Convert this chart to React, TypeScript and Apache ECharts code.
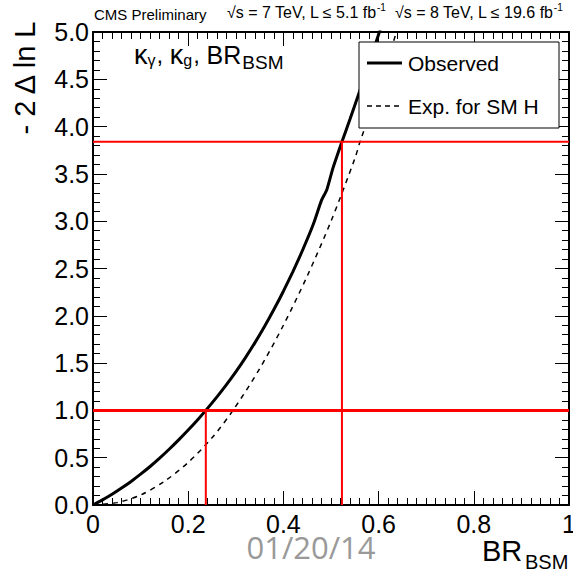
import React, { useEffect, useRef } from "react";
import * as echarts from "echarts";

const OBS_X = [0, 0.02, 0.04, 0.06, 0.08, 0.10, 0.12, 0.14, 0.16, 0.18, 0.20, 0.22, 0.237, 0.26, 0.28, 0.30, 0.32, 0.34, 0.36, 0.38, 0.40, 0.42, 0.44, 0.463, 0.48, 0.491, 0.504, 0.523, 0.54, 0.56, 0.58, 0.605];
const OBS_Y = [0, 0.054, 0.113, 0.179, 0.249, 0.326, 0.407, 0.495, 0.589, 0.688, 0.792, 0.902, 1.0, 1.14, 1.27, 1.408, 1.556, 1.714, 1.884, 2.066, 2.26, 2.468, 2.69, 2.97, 3.22, 3.33, 3.56, 3.84, 4.08, 4.37, 4.67, 5.05];
const EXP_X = [0, 0.05, 0.1, 0.15, 0.2, 0.25, 0.294, 0.35, 0.4, 0.45, 0.5, 0.55, 0.561, 0.6, 0.64];
const EXP_Y = [0, 0.025, 0.105, 0.25, 0.45, 0.71, 1.0, 1.44, 1.9, 2.42, 3.0, 3.66, 3.84, 4.4, 5.04];
const LEVELS = [1.0, 3.84];
const CROSSINGS = [0.237, 0.523];
const SERIES_NAMES = ["Observed", "Exp. for SM H"];
const X_TICKS = [0, 0.2, 0.4, 0.6, 0.8, 1];
const Y_TICKS = [0, 0.5, 1, 1.5, 2, 2.5, 3, 3.5, 4, 4.5, 5];

const FONT = "Liberation Sans, Arial, Helvetica, sans-serif";

export default function App() {
  const ref = useRef<HTMLDivElement>(null);
  useEffect(() => {
    if (!ref.current) return;
    const chart = echarts.init(ref.current, undefined, { renderer: "svg" });
    const obs = OBS_X.map((x, i) => [x, OBS_Y[i]]);
    const exp = EXP_X.map((x, i) => [x, EXP_Y[i]]);
    const tick = (len: number) => ({ show: true, inside: true, length: len, lineStyle: { color: "#000", width: 1 } });
    const baseX = {
      type: "value" as const,
      min: X_TICKS[0],
      max: X_TICKS[X_TICKS.length - 1],
      interval: 0.2,
      splitLine: { show: false },
      axisLine: { show: true, onZero: false, lineStyle: { color: "#000", width: 2 } },
      axisTick: tick(14),
      minorTick: { show: true, splitNumber: 10, length: 7, lineStyle: { color: "#000", width: 1 } },
    };
    const baseY = {
      type: "value" as const,
      min: Y_TICKS[0],
      max: Y_TICKS[Y_TICKS.length - 1],
      interval: 0.5,
      splitLine: { show: false },
      axisLine: { show: true, onZero: false, lineStyle: { color: "#000", width: 2 } },
      axisTick: tick(14),
      minorTick: { show: true, splitNumber: 5, length: 7, lineStyle: { color: "#000", width: 1 } },
    };
    const redSeries: any[] = [];
    LEVELS.forEach((lv, i) => {
      redSeries.push({
        type: "line",
        data: [[X_TICKS[0], lv], [X_TICKS[X_TICKS.length - 1], lv]],
        symbol: "none",
        lineStyle: { color: "#ff0000", width: i === 0 ? 3 : 2 },
        silent: true,
        z: 5,
      });
      redSeries.push({
        type: "line",
        data: [[CROSSINGS[i], 0], [CROSSINGS[i], lv]],
        symbol: "none",
        lineStyle: { color: "#ff0000", width: 2 },
        silent: true,
        z: 5,
      });
    });
    const txt = (left: number, top: number, text: string, size: number, extra: any = {}) => ({
      type: "text",
      left,
      top,
      z: 20,
      style: { text, fontSize: size, fontFamily: FONT, fill: "#000", ...extra },
    });
    const sup = {
      a: { fontSize: 16, fontFamily: FONT, fill: "#000", padding: [4, 0, 0, 0] },
      s: { fontSize: 10, fontFamily: FONT, fill: "#000", padding: [0, 0, 7, 0] },
    };
    chart.setOption({
      animation: false,
      grid: { left: 93, top: 32, right: 4, bottom: 68, containLabel: false, outerBoundsMode: "none" },
      xAxis: [
        {
          ...baseX,
          position: "bottom",
          axisLabel: {
            show: true,
            margin: 6,
            fontSize: 25,
            color: "#000",
            fontFamily: FONT,
            hideOverlap: false,
            formatter: (v: number) => (v === 0 ? "0" : v === 1 ? "1" : v.toFixed(1)),
          },
        },
        { ...baseX, position: "top", axisLabel: { show: false } },
      ],
      yAxis: [
        {
          ...baseY,
          position: "left",
          axisLabel: {
            show: true,
            margin: 4,
            fontSize: 25,
            color: "#000",
            fontFamily: FONT,
            hideOverlap: false,
            formatter: (v: number) => v.toFixed(1),
          },
        },
        { ...baseY, position: "right", axisLabel: { show: false } },
      ],
      legend: { show: false, data: SERIES_NAMES },
      series: [
        {
          name: SERIES_NAMES[0],
          type: "line",
          data: obs,
          symbol: "none",
          smooth: 0.2,
          lineStyle: { color: "#000", width: 3 },
          itemStyle: { color: "#000" },
          clip: true,
          z: 3,
        },
        {
          name: SERIES_NAMES[1],
          type: "line",
          data: exp,
          symbol: "none",
          smooth: 0.3,
          lineStyle: { color: "#000", width: 1.5, type: [5, 5] },
          itemStyle: { color: "#000" },
          clip: true,
          z: 3,
        },
        ...redSeries,
      ],
      graphic: [
        // legend box
        {
          type: "rect",
          z: 10,
          shape: { x: 359, y: 42, width: 200, height: 86 },
          style: { fill: "#fff", stroke: "#000", lineWidth: 1 },
        },
        {
          type: "line",
          z: 11,
          shape: { x1: 367, y1: 63, x2: 402, y2: 63 },
          style: { stroke: "#000", lineWidth: 3 },
        },
        {
          type: "line",
          z: 11,
          shape: { x1: 367, y1: 106, x2: 402, y2: 106 },
          style: { stroke: "#000", lineWidth: 1.5, lineDash: [5, 4] },
        },
        {
          type: "text",
          x: 408,
          y: 63,
          z: 11,
          style: { text: SERIES_NAMES[0], fontSize: 21, fontFamily: FONT, fill: "#000", verticalAlign: "middle" },
        },
        {
          type: "text",
          x: 408,
          y: 106,
          z: 11,
          style: { text: SERIES_NAMES[1], fontSize: 21, fontFamily: FONT, fill: "#000", verticalAlign: "middle" },
        },
        // header
        txt(94, 7, "CMS Preliminary", 15),
        {
          type: "text",
          left: 227,
          top: 2,
          z: 20,
          style: { text: "{a|√s = 7 TeV, L ≤ 5.1 fb}{s|-1}", fontFamily: FONT, rich: sup },
        },
        {
          type: "text",
          left: 395,
          top: 2,
          z: 20,
          style: { text: "{a|√s = 8 TeV, L ≤ 19.6 fb}{s|-1}", fontFamily: FONT, rich: sup },
        },
        // inner label
        {
          type: "text",
          left: 134,
          top: 41,
          z: 20,
          style: {
            text: "{k|κ}{s|γ}{p|, }{k|κ}{s|g}{p|, }{b|BR}{t|BSM}",
            fontFamily: FONT,
            rich: {
              k: { fontSize: 27, fontFamily: FONT, fill: "#000" },
              s: { fontSize: 16, fontFamily: FONT, fill: "#000", padding: [11, 1, 0, 0] },
              p: { fontSize: 24, fontFamily: FONT, fill: "#000" },
              b: { fontSize: 25, fontFamily: FONT, fill: "#000" },
              t: { fontSize: 19, fontFamily: FONT, fill: "#000", padding: [15, 0, 0, 1] },
            },
          },
        },
        // y title
        {
          type: "text",
          x: 25,
          y: 78,
          rotation: Math.PI / 2,
          z: 20,
          style: {
            text: "- 2 Δ ln L",
            fontSize: 29,
            fontFamily: FONT,
            fill: "#000",
            align: "center",
            verticalAlign: "middle",
          },
        },
        // x title
        txt(482, 536, "BR", 29),
        txt(525, 552, "BSM", 20),
        // date stamp
        {
          type: "text",
          x: 311,
          y: 547,
          z: 20,
          style: {
            text: "01/20/14",
            fontSize: 31,
            fontFamily: "Open Sans, DejaVu Sans, sans-serif",
            fill: "#999999",
            align: "center",
            verticalAlign: "middle",
          },
        },
      ],
    });
    return () => chart.dispose();
  }, []);
  return <div ref={ref} style={{ width: 573, height: 573, position: "absolute", left: 0, top: 0 }} />;
}
